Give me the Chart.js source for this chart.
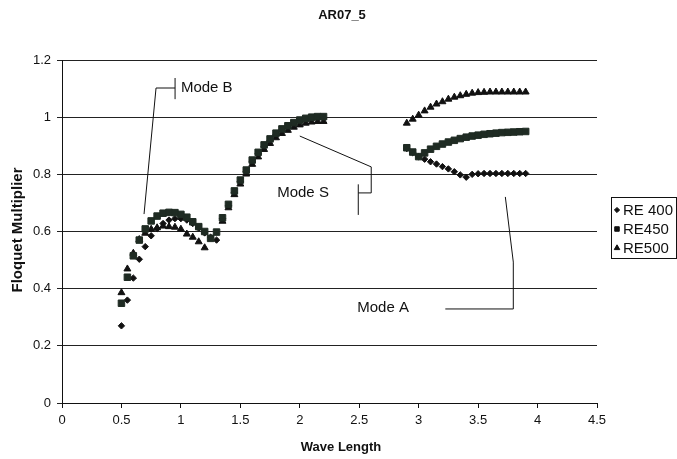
<!DOCTYPE html>
<html>
<head>
<meta charset="utf-8">
<script src="https://cdn.jsdelivr.net/npm/chart.js@4.4.1/dist/chart.umd.min.js"></script>
<style>
  body { margin: 0; background: #fff; }
  canvas { display: block; }
</style>
</head>
<body>
<canvas id="floquet" width="677" height="459"></canvas>
<script>
//Wave lengths of the two branches
const xModeBS = [0.5, 0.55, 0.6, 0.65, 0.7, 0.75, 0.8, 0.85, 0.9, 0.95, 1.0, 1.05, 1.1, 1.15, 1.2, 1.25, 1.3,
                 1.35, 1.4, 1.45, 1.5, 1.55, 1.6, 1.65, 1.7, 1.75, 1.8, 1.85, 1.9, 1.95, 2.0, 2.05, 2.1, 2.15, 2.2];
const xModeA = [2.9, 2.95, 3.0, 3.05, 3.1, 3.15, 3.2, 3.25, 3.3, 3.35, 3.4, 3.45, 3.5, 3.55, 3.6, 3.65, 3.7, 3.75, 3.8, 3.85, 3.9];

//Floquet multipliers
const re400BS = [0.27, 0.36, 0.437, 0.503, 0.547, 0.585, 0.61, 0.628, 0.64, 0.645, 0.645, 0.64, 0.628, 0.612, 0.595, 0.58, 0.57,
                 0.645, 0.69, 0.737, 0.775, 0.81, 0.845, 0.872, 0.898, 0.919, 0.939, 0.954, 0.965, 0.976, 0.985, 0.991, 0.995, 0.997, 0.997];
const re450BS = [0.349, 0.44, 0.515, 0.57, 0.609, 0.637, 0.654, 0.664, 0.667, 0.666, 0.66, 0.65, 0.634, 0.617, 0.6, 0.576, 0.598,
                 0.648, 0.695, 0.742, 0.78, 0.815, 0.85, 0.877, 0.903, 0.924, 0.944, 0.959, 0.97, 0.981, 0.99, 0.996, 1.0, 1.002, 1.002];
const re500BS = [0.386, 0.469, 0.524, 0.572, 0.594, 0.608, 0.613, 0.619, 0.617, 0.615, 0.608, 0.591, 0.58, 0.564, 0.543, null, null,
                 0.636, 0.683, 0.729, 0.766, 0.801, 0.835, 0.861, 0.887, 0.908, 0.928, 0.943, 0.954, 0.965, 0.973, 0.979, 0.983, 0.985, 0.985];

const re400A = [0.89, 0.876, 0.862, 0.853, 0.844, 0.836, 0.827, 0.819, 0.809, 0.798, 0.79, 0.8, 0.802, 0.803, 0.803, 0.803, 0.803, 0.803, 0.803, 0.803, 0.803];
const re450A = [0.893, 0.878, 0.862, 0.875, 0.888, 0.898, 0.906, 0.913, 0.919, 0.925, 0.93, 0.934, 0.937, 0.94, 0.942, 0.944, 0.946, 0.947, 0.948, 0.949, 0.95];
const re500A = [0.979, 0.993, 1.007, 1.022, 1.035, 1.046, 1.054, 1.063, 1.07, 1.075, 1.08, 1.084, 1.086, 1.087, 1.088, 1.088, 1.088, 1.088, 1.088, 1.088, 1.088];

const seriesLabels = ["RE 400", "RE450", "RE500"];
const xTicks = [0, 0.5, 1, 1.5, 2, 2.5, 3, 3.5, 4, 4.5];
const yTicks = [0, 0.2, 0.4, 0.6, 0.8, 1, 1.2];

//Mode call-outs (in data units)
const modeNames = ["Mode B", "Mode S", "Mode A"];
const modeTextAt = [[1.0, 1.102], [1.81, 0.735], [2.483, 0.332]];
const modeLines = [
    [[[0.951, 1.137], [0.951, 1.063]], [[0.951, 1.102], [0.791, 1.102], [0.69, 0.661]]],
    [[[2.0, 0.934], [2.601, 0.826], [2.601, 0.735], [2.492, 0.735]], [[2.492, 0.765], [2.492, 0.658]]],
    [[[3.224, 0.329], [3.796, 0.329], [3.796, 0.493], [3.729, 0.721]]]
];

const FONT = "'Liberation Sans', Arial, sans-serif";

function toPoints(xs, ys) {
    return xs.map((x, i) => ({x: x, y: ys[i]})).filter(p => p.y !== null);
}

const styles = [
    {pointStyle: "rectRot", pointRadius: 3.2, backgroundColor: "#111", borderColor: "#111", order: 2},
    {pointStyle: "rect", pointRadius: 4.6, backgroundColor: "#1f2b23", borderColor: "#1f2b23", order: 0},
    {pointStyle: "triangle", pointRadius: 4, backgroundColor: "#111", borderColor: "#111", order: 1}
];
const seriesData = [
    toPoints(xModeBS, re400BS).concat(toPoints(xModeA, re400A)),
    toPoints(xModeBS, re450BS).concat(toPoints(xModeA, re450A)),
    toPoints(xModeBS, re500BS).concat(toPoints(xModeA, re500A))
];

const data = {
    datasets: seriesLabels.map((label, i) => Object.assign({
        label: label,
        data: seriesData[i],
        showLine: false,
        borderWidth: 1
    }, styles[i]))
};

//Titles, call-outs and the boxed legend
const extras = {
    id: "extras",
    afterDraw(chart) {
        const ctx = chart.ctx;
        const xs = chart.scales.x, ys = chart.scales.y;
        ctx.save();
        ctx.fillStyle = "#111";
        ctx.strokeStyle = "#111";
        ctx.lineWidth = 1;
        ctx.textBaseline = "middle";
        ctx.textAlign = "center";

        ctx.font = "bold 13px " + FONT;
        ctx.fillText("AR07_5", 342, 15);
        ctx.fillText("Wave Length", 341, 447);
        ctx.save();
        ctx.translate(18, 230);
        ctx.rotate(-Math.PI / 2);
        ctx.font = "bold 15px " + FONT;
        ctx.fillText("Floquet Multiplier", 0, 0);
        ctx.restore();

        modeLines.forEach(group => group.forEach(line => {
            ctx.beginPath();
            line.forEach((p, k) => {
                const px = xs.getPixelForValue(p[0]), py = ys.getPixelForValue(p[1]);
                if (k === 0) ctx.moveTo(px, py); else ctx.lineTo(px, py);
            });
            ctx.stroke();
        }));
        ctx.font = "15px " + FONT;
        ctx.textAlign = "left";
        modeNames.forEach((name, i) => {
            ctx.fillText(name, xs.getPixelForValue(modeTextAt[i][0]), ys.getPixelForValue(modeTextAt[i][1]));
        });

        //legend
        const lx = 611, ly = 197, lw = 65, lh = 61;
        ctx.strokeRect(lx + 0.5, ly + 0.5, lw, lh);
        ctx.font = "15px " + FONT;
        seriesLabels.forEach((label, i) => {
            const cy = ly + 13 + i * 19;
            Chart.helpers.drawPoint(ctx, {
                pointStyle: styles[i].pointStyle,
                radius: i === 0 ? 2.6 : 3.2,
                rotation: 0,
                borderWidth: 1
            }, lx + 6, cy);
            ctx.fillText(label, lx + 12, cy + 1);
        });
        ctx.restore();
    }
};

const config = {
    type: "scatter",
    data: data,
    options: {
        responsive: false,
        animation: false,
        devicePixelRatio: 1,
        layout: {padding: {left: 0, right: 80, top: 60, bottom: 0}},
        plugins: {
            legend: {display: false},
            tooltip: {enabled: false},
            title: {display: false}
        },
        scales: {
            x: {
                type: "linear",
                min: 0, max: 4.5,
                afterBuildTicks: s => { s.ticks = xTicks.map(v => ({value: v})); },
                afterFit: s => { s.height = 56; },
                grid: {display: true, drawOnChartArea: false, drawTicks: true, tickLength: 5, color: "#111"},
                border: {display: true, color: "#111", width: 1},
                ticks: {color: "#111", font: {family: FONT, size: 13}, padding: 5, maxRotation: 0,
                        callback: v => String(v)}
            },
            y: {
                type: "linear",
                min: 0, max: 1.2,
                afterBuildTicks: s => { s.ticks = yTicks.map(v => ({value: v})); },
                afterFit: s => { s.width = 62; },
                grid: {color: "#222", lineWidth: 1, drawTicks: true, tickLength: 5},
                border: {display: true, color: "#111", width: 1},
                ticks: {color: "#111", font: {family: FONT, size: 13}, padding: 6,
                        callback: v => String(v)}
            }
        }
    },
    plugins: [extras]
};

const floquetChart = new Chart(document.getElementById("floquet"), config);
</script>
</body>
</html>
